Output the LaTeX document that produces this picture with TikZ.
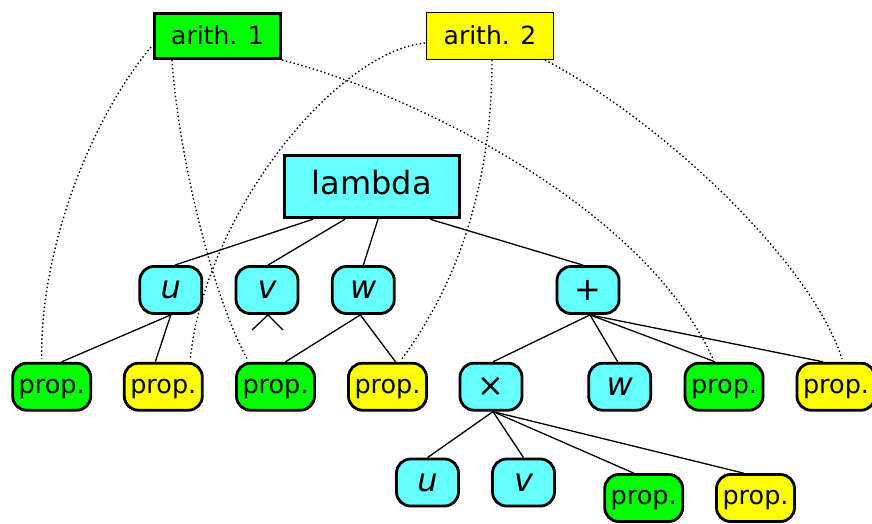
\documentclass[tikz,border=0pt]{standalone}
\usepackage{fontspec}
\setmainfont{DejaVu Sans}
\definecolor{cy}{RGB}{102,255,255}
\definecolor{gr}{RGB}{0,255,0}
\definecolor{ye}{RGB}{255,255,0}
\begin{document}
\begin{tikzpicture}[x=1pt,y=-1pt,
  rbox/.style={draw,inner sep=0pt},
  tn/.style={draw,line width=2.8pt,rounded corners=14pt,fill=cy,minimum width=62pt,minimum height=47pt,inner sep=0pt,font=\fontsize{32}{32}\selectfont\itshape},
  pn/.style={draw,line width=2.8pt,rounded corners=14pt,minimum width=78pt,minimum height=47pt,inner sep=0pt,text height=17pt,text depth=4pt,font=\fontsize{25.5}{25.5}\selectfont},
  ed/.style={line width=1.3pt},
  dt/.style={line width=1.4pt,dash pattern=on 1.4pt off 2.6pt}]
\useasboundingbox (0,0) rectangle (872,523);
% top boxes
\node[rbox,line width=3pt,fill=gr,minimum width=126pt,minimum height=45pt,text height=18pt,text depth=2pt,font=\fontsize{25}{25}\selectfont] (a1) at (217.5,36) {arith. 1};
\node[rbox,line width=1pt,fill=ye,minimum width=127pt,minimum height=47pt,text height=18pt,text depth=2pt,font=\fontsize{25}{25}\selectfont] (a2) at (490,36) {arith. 2};
\node[rbox,line width=3pt,fill=cy,minimum width=175pt,minimum height=62pt,text height=24pt,text depth=7.5pt,font=\fontsize{32}{32}\selectfont] (lam) at (371.7,186.7) {lambda};
% level 1
\node[tn] (u) at (170.8,290) {u};
\node[tn] (v) at (267,290) {v};
\node[tn] (w) at (363.3,290) {w};
\node[tn,font=\fontsize{32}{32}\selectfont] (pl) at (588,290) {+};
% level 2
\node[pn,fill=gr] (g1) at (51.7,386.7) {prop.};
\node[pn,fill=ye] (y1) at (163.3,386.7) {prop.};
\node[pn,fill=gr] (g2) at (275.5,386.7) {prop.};
\node[pn,fill=ye] (y2) at (387.5,386.7) {prop.};
\node[tn,font=\fontsize{32}{32}\selectfont] (ti) at (491,386.7) {×};
\node[tn] (w2) at (619.7,386.7) {w};
\node[pn,fill=gr] (g3) at (724,386.7) {prop.};
\node[pn,fill=ye] (y3) at (836,386.7) {prop.};
% level 3
\node[tn] (u3) at (427.5,482.5) {u};
\node[tn] (v3) at (523.5,482.5) {v};
\node[pn,fill=gr] (g4) at (643.7,498) {prop.};
\node[pn,fill=ye] (y4) at (755.5,498) {prop.};
% tree edges
\draw[ed] ([xshift=-58.7pt]lam.south) -- ([xshift=4pt]u.north);
\draw[ed] ([xshift=-26.7pt]lam.south) -- ([xshift=1pt]v.north);
\draw[ed] ([xshift=6.3pt]lam.south) -- (w.north);
\draw[ed] ([xshift=58.3pt]lam.south) -- ([xshift=-5pt]pl.north);
\draw[ed] (u.south) -- ([xshift=10pt]g1.north);
\draw[ed] (u.south) -- ([xshift=-8pt]y1.north);
\coordinate (vl) at (252,330);
\coordinate (vr) at (283,330);
\draw[ed] (vl) -- ([xshift=1pt]v.south) -- (vr);
\draw[ed] ([xshift=-3pt]w.south) -- ([xshift=10pt]g2.north);
\draw[ed] ([xshift=-3pt]w.south) -- ([xshift=8pt]y2.north);
\draw[ed] ([xshift=2pt]pl.south) -- ([xshift=2pt]ti.north);
\draw[ed] ([xshift=2pt]pl.south) -- ([xshift=-2pt]w2.north);
\draw[ed] ([xshift=2pt]pl.south) -- ([xshift=-9pt]g3.north);
\draw[ed] ([xshift=2pt]pl.south) -- ([xshift=-13pt]y3.north);
\draw[ed] ([xshift=2pt]ti.south) -- (u3.north);
\draw[ed] ([xshift=2pt]ti.south) -- (v3.north);
\draw[ed] ([xshift=2pt]ti.south) -- ([xshift=-10pt]g4.north);
\draw[ed] ([xshift=2pt]ti.south) -- ([xshift=-12pt]y4.north);
% dotted links
\draw[dt] ([xshift=-2pt,yshift=-11pt]a1.west) .. controls (90,120) and (40,250) .. ([xshift=-10pt,yshift=3pt]g1.north);
\draw[dt] ([xshift=-45.5pt]a1.south) .. controls (178,150) and (210,290) .. ([xshift=-28.5pt,yshift=3pt]g2.north);
\draw[dt] ([xshift=-1pt,yshift=-7pt]a2.west) .. controls (335,52) and (205,215) .. ([xshift=27pt,yshift=3pt]y1.north);
\draw[dt] ([xshift=2pt]a2.south) .. controls (492,180) and (460,280) .. ([xshift=14.5pt,yshift=3pt]y2.north);
\draw[dt] (a1.south east) .. controls (400,90) and (640,200) .. ([xshift=-11pt,yshift=3pt]g3.north);
\draw[dt] ([xshift=-9pt]a2.south east) .. controls (660,120) and (810,260) .. ([xshift=6pt,yshift=3pt]y3.north);
\end{tikzpicture}
\end{document}
